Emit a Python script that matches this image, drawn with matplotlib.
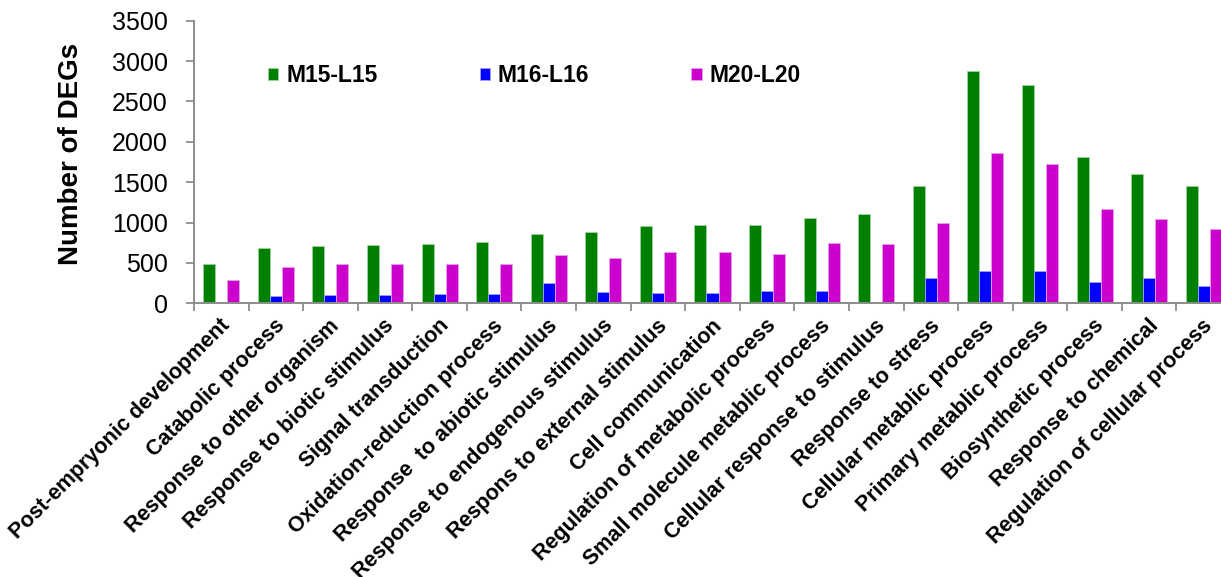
import matplotlib
matplotlib.use("Agg")
import matplotlib.pyplot as plt
import matplotlib.transforms as mtransforms
from matplotlib.patches import Patch
import numpy as np

categories = [
    "Post-empryonic development",
    "Catabolic process",
    "Response to other organism",
    "Response to biotic stimulus",
    "Signal transduction",
    "Oxidation-reduction process",
    "Response  to abiotic stimulus",
    "Response to endogenous stimulus",
    "Respons to external stimulus",
    "Cell communication",
    "Regulation of metabolic process",
    "Small molecule metablic process",
    "Cellular response to stimulus",
    "Response to stress",
    "Cellular metablic process",
    "Primary metablic process",
    "Biosynthetic process",
    "Response to chemical",
    "Regulation of cellular process",
]

series_names = ["M15-L15", "M16-L16", "M20-L20"]

m15_l15 = [483, 681, 710, 723, 739, 760, 859, 879, 962, 966,
           974, 1061, 1102, 1447, 2876, 2704, 1806, 1598, 1453]
m16_l16 = [0, 87, 99, 99, 111, 111, 248, 140, 124, 124,
           147, 157, 0, 318, 394, 394, 268, 318, 215]
m20_l20 = [289, 450, 483, 491, 491, 483, 603, 557, 632, 640,
           615, 753, 737, 993, 1856, 1722, 1168, 1049, 915]

yticks = [0, 500, 1000, 1500, 2000, 2500, 3000, 3500]

colors = ["#008000", "#0000FF", "#CC00CC"]
edges = ["#9fd49f", "#9f9fff", "#eaa0ea"]

plt.rcParams["font.family"] = ["Liberation Sans", "DejaVu Sans"]

W, H = 1221, 577
fig = plt.figure(figsize=(W / 100, H / 100), dpi=100)
fig.patch.set_facecolor("white")

# axes spans slightly past the right border of the figure
ax_left, ax_right = 194, 1231
ax_top, ax_bottom = 20.7, 303.3
ax = fig.add_axes([ax_left / W, 1 - ax_bottom / H,
                   (ax_right - ax_left) / W, (ax_bottom - ax_top) / H])

x = np.arange(len(categories))
bw = 0.22
for i, (vals, c, ec) in enumerate(zip([m15_l15, m16_l16, m20_l20], colors, edges)):
    ax.bar(x + (i - 1) * bw, vals, width=bw, color=c, edgecolor=ec,
           linewidth=0.6, zorder=2)

ax.set_xlim(-0.5, len(categories) - 0.5)
ax.set_ylim(0, 3500)

spine_col = "#8c8c8c"
for s in ["top", "right"]:
    ax.spines[s].set_visible(False)
for s in ["left", "bottom"]:
    ax.spines[s].set_color(spine_col)
    ax.spines[s].set_linewidth(1.4)

ax.set_yticks(yticks)
ax.set_yticklabels([str(v) for v in yticks], fontsize=18)
ax.tick_params(axis="y", direction="out", length=6, width=1.3,
               color=spine_col, pad=13)

# category labels on the major ticks, boundary marks on the minor ticks
ax.set_xticks(x)
ax.set_xticklabels(categories, rotation=45, ha="right", va="center",
                   rotation_mode="anchor", fontsize=15.5, fontweight="bold")
ax.tick_params(axis="x", which="major", length=0, pad=14)
shift = mtransforms.ScaledTranslation(0.06, 0, fig.dpi_scale_trans)
for lbl in ax.get_xticklabels():
    lbl.set_transform(lbl.get_transform() + shift)
ax.set_xticks(np.arange(len(categories) + 1) - 0.5, minor=True)
ax.tick_params(axis="x", which="minor", direction="out", length=6,
               width=1.3, color=spine_col)

fig.text(71.5 / W, 1 - 153.5 / H, "Number of DEGs", rotation=90,
         ha="center", va="center", fontsize=20, fontweight="bold")

handles = [Patch(facecolor=c, edgecolor=ec, linewidth=0.6)
           for c, ec in zip(colors, edges)]
ax.legend(handles, series_names, loc="center left",
          bbox_to_anchor=(268 / W, 1 - 76 / H), bbox_transform=fig.transFigure,
          ncol=3, frameon=False, handlelength=0.45, handleheight=0.45,
          handletextpad=0.35, columnspacing=4.45, borderaxespad=0,
          borderpad=0, prop={"size": 16.5, "weight": "bold"})

fig.savefig("out.png", dpi=100, facecolor="white")
